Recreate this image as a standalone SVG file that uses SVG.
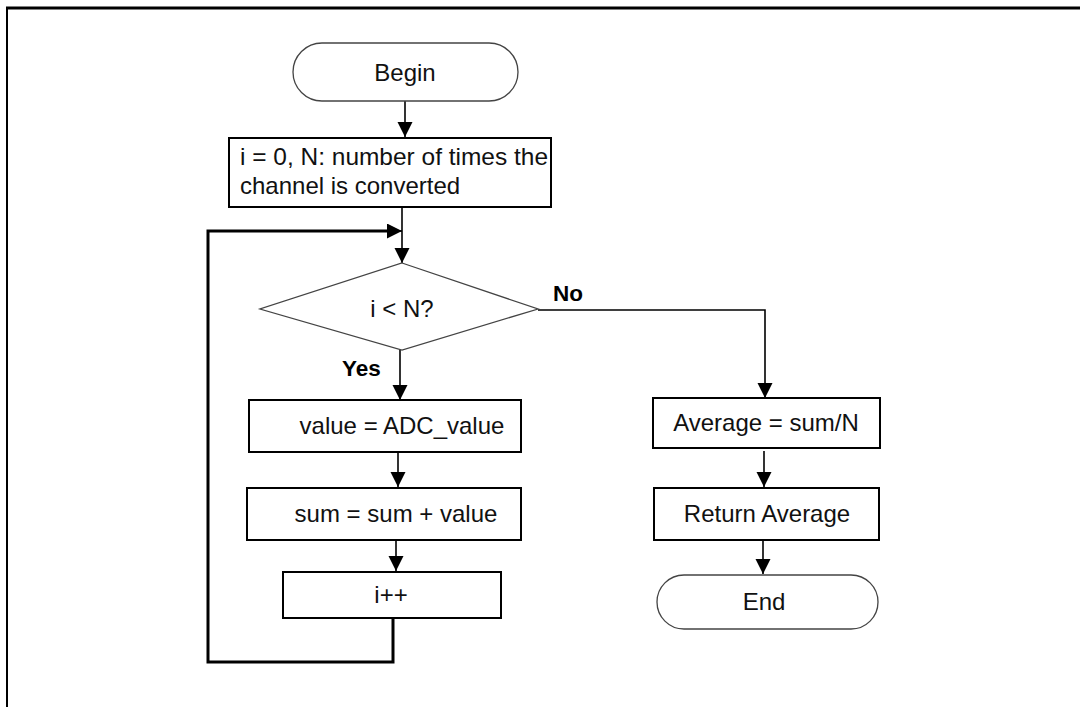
<svg xmlns="http://www.w3.org/2000/svg" width="1080" height="707" viewBox="0 0 1080 707">
<style>
.box{fill:#fff;stroke:#000;stroke-width:2}
.term{fill:#fff;stroke:#444;stroke-width:1.3}
.t{font-family:"Liberation Sans",Arial,sans-serif;font-size:24px;fill:#111}
.c{text-anchor:middle}
.b{font-family:"Liberation Sans",Arial,sans-serif;font-size:22.5px;font-weight:bold;fill:#000}
.ln{fill:none;stroke:#000;stroke-width:1.6}
.lp{fill:none;stroke:#000;stroke-width:3}
</style>
<defs>
<marker id="ah" markerUnits="userSpaceOnUse" markerWidth="16" markerHeight="16" refX="15" refY="7.5" orient="auto" viewBox="0 0 16 16">
<path d="M0,0 L15,7.5 L0,15 z" fill="#000"/>
</marker>
</defs>
<g id="frame">
<line x1="6" y1="8" x2="1080" y2="8" stroke="#000" stroke-width="3"/>
<line x1="7" y1="7" x2="7" y2="707" stroke="#000" stroke-width="2"/>
</g>
<g id="connectors">
<line class="ln" x1="405" y1="101" x2="405" y2="137" marker-end="url(#ah)"/>
<line class="ln" x1="402" y1="207" x2="402" y2="263" marker-end="url(#ah)"/>
<polyline class="lp" points="393,618 393,662 208,662 208,231 387,231"/>
<line class="ln" x1="380" y1="231" x2="402" y2="231" marker-end="url(#ah)"/>
<line class="ln" x1="400" y1="350" x2="400" y2="400" marker-end="url(#ah)"/>
<line class="ln" x1="398" y1="452" x2="398" y2="487" marker-end="url(#ah)"/>
<line class="ln" x1="396" y1="540" x2="396" y2="571" marker-end="url(#ah)"/>
<polyline class="ln" points="538,310 765,310 765,398" marker-end="url(#ah)"/>
<line class="ln" x1="764" y1="451" x2="764" y2="487" marker-end="url(#ah)"/>
<line class="ln" x1="763" y1="540" x2="763" y2="574" marker-end="url(#ah)"/>
<text class="b" x="553" y="301">No</text>
<text class="b" x="342" y="376">Yes</text>
</g>
<g id="begin">
<rect class="term" x="293" y="43" width="225" height="58" rx="29"/>
<text class="t c" x="405" y="81">Begin</text>
</g>
<g id="init">
<rect class="box" x="229" y="138" width="322" height="69"/>
<text class="t" x="240" y="165" textLength="308" lengthAdjust="spacingAndGlyphs">i = 0, N: number of times the</text>
<text class="t" x="240" y="194">channel is converted</text>
</g>
<g id="decision">
<polygon class="term" points="402,263 538,309 402,350 260,309"/>
<text class="t c" x="402" y="317">i &lt; N?</text>
</g>
<g id="value">
<rect class="box" x="249" y="400" width="272" height="52"/>
<text class="t c" x="402" y="434">value = ADC_value</text>
</g>
<g id="sum">
<rect class="box" x="247" y="488" width="274" height="52"/>
<text class="t c" x="396" y="522">sum = sum + value</text>
</g>
<g id="inc">
<rect class="box" x="283" y="572" width="218" height="46"/>
<text class="t c" x="391" y="603">i++</text>
</g>
<g id="average">
<rect class="box" x="653" y="398" width="227" height="50"/>
<text class="t c" x="766" y="431">Average = sum/N</text>
</g>
<g id="return">
<rect class="box" x="654" y="488" width="225" height="52"/>
<text class="t c" x="767" y="522">Return Average</text>
</g>
<g id="end">
<rect class="term" x="657" y="575" width="221" height="54" rx="27"/>
<text class="t c" x="764" y="610">End</text>
</g>
</svg>
